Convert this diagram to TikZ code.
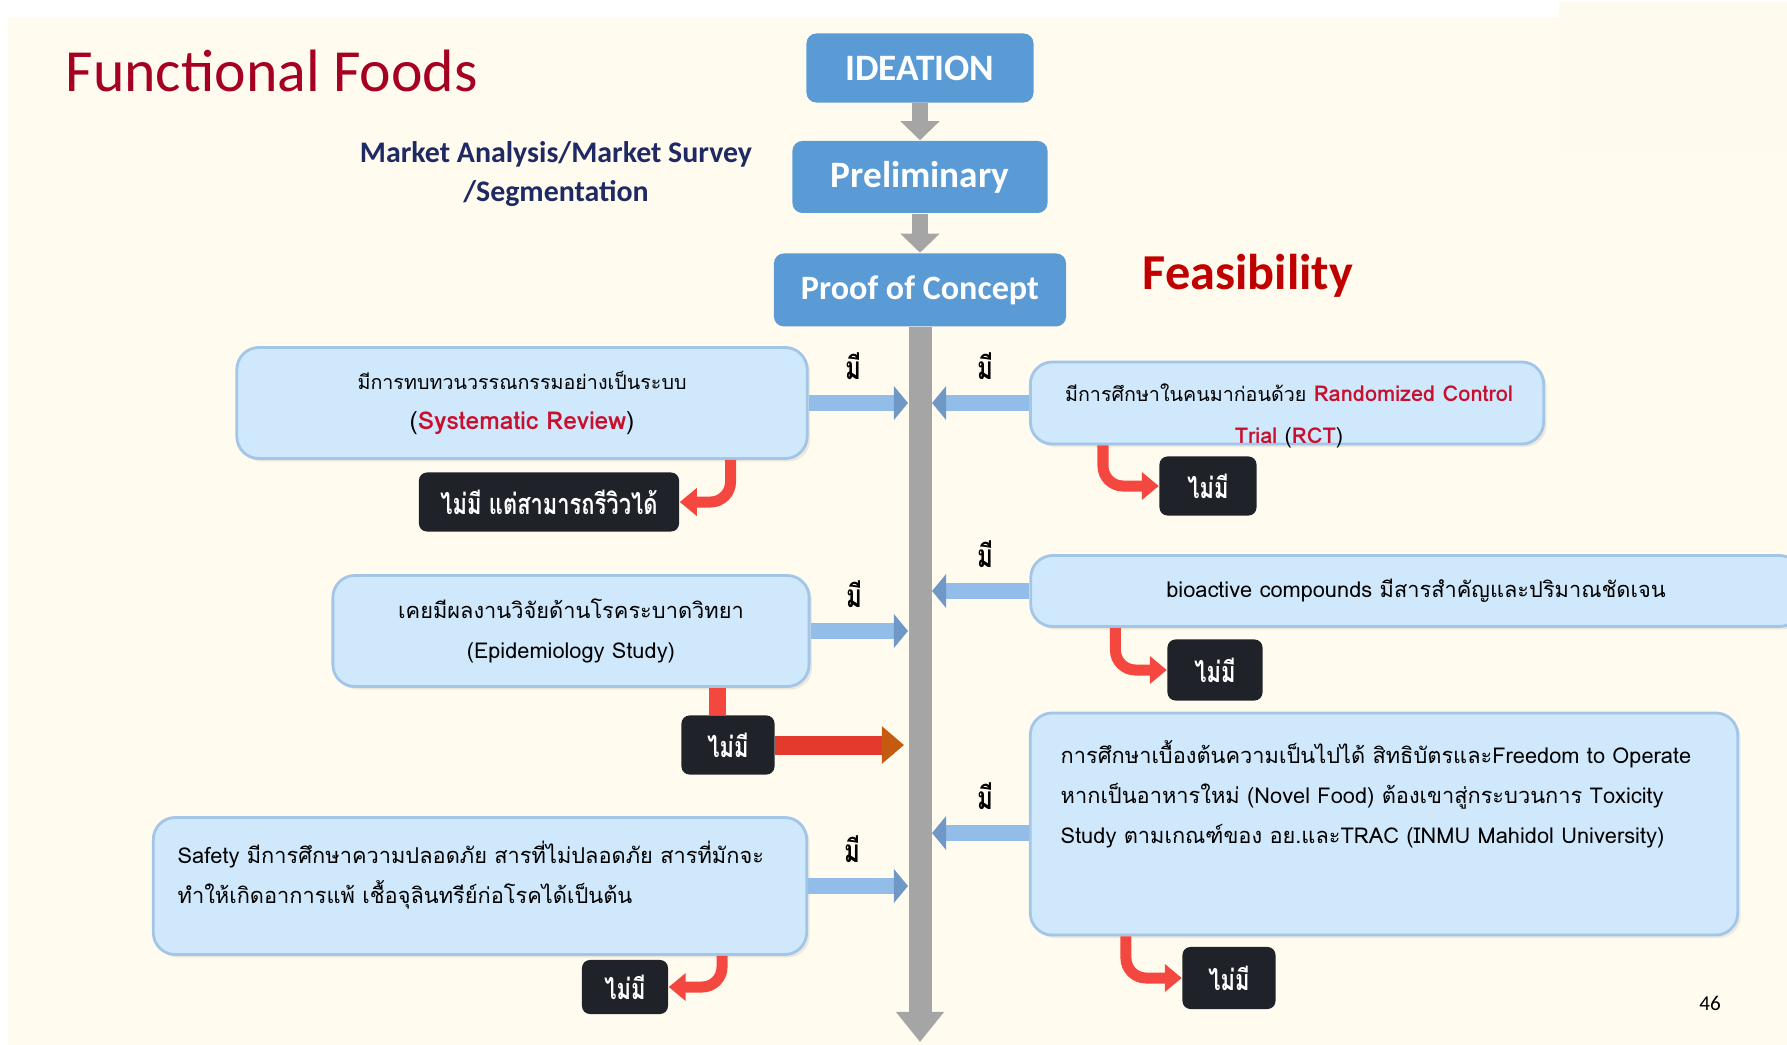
\documentclass[tikz,border=0pt]{standalone}
\usepackage{fontspec}
\setmainfont{Carlito}
\newfontfamily\thaifont[Script=Thai]{Loma}
\newfontfamily\thaicond[Script=Thai, FakeStretch=0.76]{Loma}
\usetikzlibrary{positioning, arrows.meta, shadows}

\definecolor{cream}{HTML}{FFFCEF}
\definecolor{creamtop}{HTML}{FFFAEE}
\definecolor{stageblue}{HTML}{5B9BD5}
\definecolor{boxfill}{HTML}{CFE8FB}
\definecolor{boxline}{HTML}{A3C5E8}
\definecolor{titlered}{HTML}{A50021}
\definecolor{feasred}{HTML}{C00000}
\definecolor{navy}{HTML}{1F2A64}
\definecolor{nofill}{HTML}{1F2329}
\definecolor{hookred}{HTML}{F4473F}
\definecolor{yesblue}{HTML}{92BDE8}
\definecolor{yesdark}{HTML}{6F98C6}
\definecolor{spinegray}{HTML}{A5A5A5}
\definecolor{keyred}{HTML}{C8102E}
\definecolor{crossred}{HTML}{E23A2C}
\definecolor{crossbrown}{HTML}{C55A11}

\newcommand\boxfont{\thaifont\fontsize{6.2}{11.4}\selectfont}

\begin{document}
\begin{tikzpicture}[
    x=0.01cm, y=-0.01cm,
    stage/.style={fill=stageblue, rounded corners=0.1cm, text=white, inner sep=0pt,
                  font=\bfseries\fontsize{10.6}{12}\selectfont},
    lbox/.style={draw=boxline, line width=0.8pt, fill=boxfill, rounded corners=0.22cm,
                 drop shadow={opacity=0.15, shadow xshift=0.03cm, shadow yshift=-0.03cm},
                 inner sep=0pt, align=center, font=\boxfont},
    boxtext/.style={inner sep=0pt, font=\boxfont},
    nobox/.style={fill=nofill, rounded corners=0.08cm, text=white, inner sep=0pt,
                  minimum height=0.59cm, font=\thaicond\bfseries\fontsize{8.2}{9}\selectfont},
    yeslabel/.style={font=\thaicond\bfseries\fontsize{9}{10}\selectfont, inner sep=0pt,
                     above=0.15cm, pos=0.4},
    stagearrow/.style={-{Triangle[width=0.38cm, length=0.19cm]}, line width=0.16cm, draw=spinegray},
    spine/.style={-{Triangle[width=0.46cm, length=0.3cm]}, line width=0.23cm, draw=spinegray},
    yesarrow/.style={-{Triangle[width=0.33cm, length=0.14cm, color=yesdark]}, line width=0.16cm,
                     draw=yesblue, shorten >=0.12cm},
    hookarrow/.style={-{Triangle[width=0.27cm, length=0.17cm]}, line width=0.11cm, draw=hookred,
                      rounded corners=0.2cm},
    crossarrow/.style={-{Triangle[width=0.36cm, length=0.22cm, color=crossbrown]}, line width=0.19cm,
                       draw=crossred, shorten >=0.16cm}
]
\useasboundingbox (0,0) rectangle (1787,1045);

% background
\fill[white] (0,0) rectangle (1787,1045);
\fill[cream] (8,17) rectangle (1787,1045);
\fill[creamtop] (1559,2) rectangle (1787,150);

% headings
\node[anchor=base west, inner sep=0pt, text=titlered, font=\fontsize{17}{20}\selectfont] (title) at (65,91) {Functional Foods};
\node[align=center, text=navy, font=\bfseries\fontsize{8.5}{11}\selectfont] (market) at (556,174)
    {Market Analysis/Market Survey\\/Segmentation};
\node[text=feasred, font=\bfseries\fontsize{14.3}{16}\selectfont] (feas) at (1248,276) {Feasibility};
\node[font=\fontsize{6}{7}\selectfont] (page) at (1710,1003) {46};

% stages
\node[stage, minimum width=2.27cm, minimum height=0.69cm] (idea) at (920,68) {IDEATION};
\node[stage, minimum width=2.55cm, minimum height=0.72cm, below=0.37cm of idea] (prelim) {Preliminary};
\node[stage, minimum width=2.92cm, minimum height=0.73cm, below=0.39cm of prelim,
      font=\bfseries\fontsize{9.7}{12}\selectfont] (poc) {Proof of Concept};

\draw[stagearrow] (idea) -- (prelim);
\draw[stagearrow] (prelim) -- (poc);

\coordinate (spineend) at (920,1042);
\draw[spine] (poc.south) -- (poc.south |- spineend);

% "no" boxes
\node[nobox, minimum width=2.6cm] (nosys) at (549,502) {ไม่มี แต่สามารถรีวิวได้};
\node[nobox, minimum width=0.97cm] (norct) at (1208,486) {ไม่มี};
\node[nobox, minimum width=0.93cm] (noepi) at (728,745) {ไม่มี};
\node[nobox, minimum width=0.95cm, minimum height=0.61cm] (nobio) at (1215,670) {ไม่มี};
\node[nobox, minimum width=0.93cm, minimum height=0.62cm] (nonov) at (1229,978) {ไม่มี};
\node[nobox, minimum width=0.86cm, minimum height=0.54cm] (nosaf) at (625,987) {ไม่มี};

% left column
\node[lbox, minimum width=5.7cm, minimum height=1.11cm] (sysrev) at (522,403)
    {{\fontsize{5.6}{11.4}\selectfont มีการทบทวนวรรณกรรมอย่างเป็นระบบ}\\
     {\fontsize{7}{11.4}\selectfont(\textcolor{keyred}{\bfseries Systematic Review})}};
\node[lbox, minimum width=4.76cm, minimum height=1.11cm] (epi) at (571,631)
    {เคยมีผลงานวิจัยด้านโรคระบาดวิทยา\\(Epidemiology Study)};
\node[lbox, minimum width=6.53cm, minimum height=1.37cm] (safety) at (480,886) {};
\node[boxtext, anchor=west, align=left] (safetytext) at (177,875)
    {Safety มีการศึกษาความปลอดภัย สารที่ไม่ปลอดภัย สารที่มักจะ\\ทำให้เกิดอาการแพ้ เชื้อจุลินทรีย์ก่อโรคได้เป็นต้น};

% right column
\node[lbox, minimum width=5.13cm, minimum height=0.82cm] (rct) at (1287,403) {};
\node[boxtext, align=center, font=\thaifont\fontsize{6.2}{12}\selectfont] (rcttext) at (1289,416)
    {{\fontsize{5.6}{12}\selectfont มีการศึกษาในคนมาก่อนด้วย} \textcolor{keyred}{\bfseries Randomized Control}\\
     \textcolor{keyred}{\bfseries Trial} (\textcolor{keyred}{\bfseries RCT})};
\node[lbox, minimum width=7.7cm, minimum height=0.71cm] (bioact) at (1416,591)
    {bioactive compounds มีสารสำคัญและปริมาณชัดเจน};
\node[lbox, minimum width=7.07cm, minimum height=2.22cm] (novel) at (1384,824) {};
\node[boxtext, anchor=west, align=left] (noveltext) at (1060,794)
    {การศึกษาเบื้องต้นความเป็นไปได้ สิทธิบัตรและFreedom to Operate\\หากเป็นอาหารใหม่ (Novel Food) ต้องเขาสู่กระบวนการ Toxicity\\Study ตามเกณฑ์ของ อย.และTRAC (INMU Mahidol University)};

% yes arrows
\coordinate (novelin) at ([yshift=-0.09cm]novel.west);
\draw[yesarrow] (sysrev.east) -- node[yeslabel] {มี} (sysrev.east -| poc.south);
\draw[yesarrow] (epi.east) -- node[yeslabel] {มี} (epi.east -| poc.south);
\draw[yesarrow] (safety.east) -- node[yeslabel] {มี} (safety.east -| poc.south);
\draw[yesarrow] (rct.west) -- node[yeslabel] {มี} (rct.west -| poc.south);
\draw[yesarrow] (bioact.west) -- node[yeslabel] {มี} (bioact.west -| poc.south);
\draw[yesarrow] (novelin) -- node[yeslabel] {มี} (novelin -| poc.south);

% no arrows
\draw[hookarrow] ([xshift=-0.78cm]sysrev.south east) |- (nosys.east);
\draw[hookarrow] ([xshift=0.74cm]rct.south west) |- (norct.west);
\draw[hookarrow] ([xshift=0.86cm]bioact.south west) |- (nobio.west);
\draw[hookarrow] ([xshift=0.97cm]novel.south west) |- (nonov.west);
\draw[hookarrow] ([xshift=-0.86cm]safety.south east) |- (nosaf.east);

\coordinate (epiout) at ([xshift=-0.93cm]epi.south east);
\draw[hookred, line width=0.16cm] (epiout) -- (epiout |- noepi.north);
\draw[crossarrow] (noepi.east) -- (noepi.east -| poc.south);

\end{tikzpicture}
\end{document}
